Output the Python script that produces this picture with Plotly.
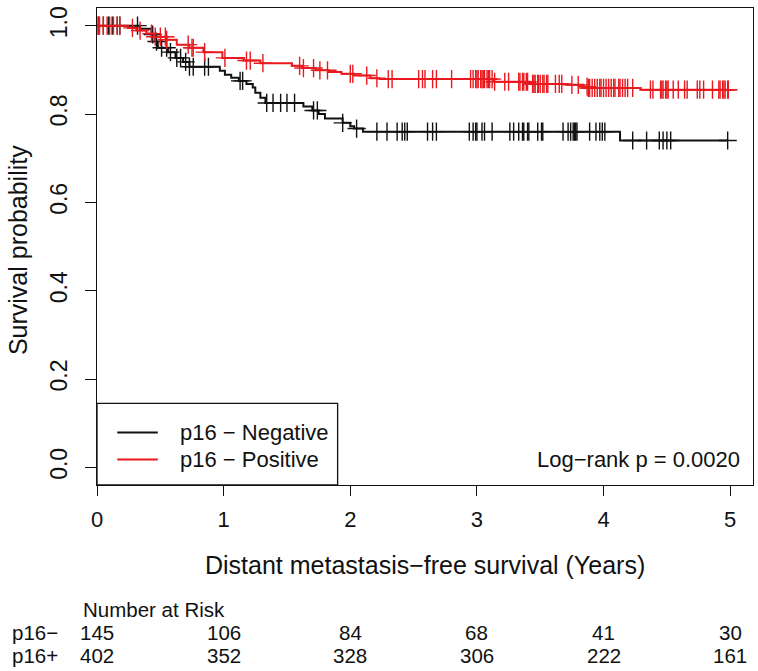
import numpy as np
import plotly.graph_objects as go

# ---------------- data ----------------
years = [0, 1, 2, 3, 4, 5]
year_labels = ["0", "1", "2", "3", "4", "5"]
y_ticks = [0.0, 0.2, 0.4, 0.6, 0.8, 1.0]
y_tick_labels = ["0.0", "0.2", "0.4", "0.6", "0.8", "1.0"]

neg_event_times = [0.34, 0.43, 0.46, 0.48, 0.56, 0.62, 0.68, 0.73, 0.97, 1.01, 1.06, 1.12,
                   1.18, 1.23, 1.25, 1.29, 1.33, 1.63, 1.70, 1.75, 1.80, 1.94, 2.00, 2.03,
                   2.10, 4.13]
neg_event_surv = [0.993, 0.980, 0.964, 0.950, 0.940, 0.927, 0.918, 0.907, 0.898, 0.889, 0.882,
                  0.875, 0.868, 0.860, 0.848, 0.837, 0.825, 0.817, 0.808, 0.800, 0.790, 0.780,
                  0.772, 0.767, 0.760, 0.740]
neg_censor_times = [0.01, 0.05, 0.09, 0.12, 0.16, 0.18, 0.32, 0.44, 0.47, 0.51, 0.55, 0.58,
                    0.63, 0.66, 0.70, 0.73, 0.76, 0.85, 0.88, 1.13, 1.15, 1.34, 1.39, 1.45,
                    1.50, 1.56, 1.71, 1.74, 1.94, 2.05, 2.21, 2.29, 2.37, 2.41, 2.43, 2.45,
                    2.61, 2.65, 2.68, 2.94, 2.97, 2.99, 3.00, 3.04, 3.06, 3.12, 3.26, 3.29,
                    3.33, 3.36, 3.37, 3.40, 3.41, 3.48, 3.51, 3.52, 3.68, 3.72, 3.74, 3.76,
                    3.77, 3.78, 3.79, 3.89, 3.94, 3.97, 3.99, 4.01, 4.23, 4.34, 4.44, 4.47,
                    4.50, 4.53, 4.98]

pos_event_times = [0.245, 0.31, 0.39, 0.45, 0.55, 0.63, 0.73, 0.84, 0.99, 1.16, 1.29, 1.54,
                   1.62, 1.73, 1.83, 1.93, 2.03, 2.16, 2.23, 3.13, 3.42, 3.71, 3.84, 3.88,
                   4.29]
pos_event_surv = [0.995, 0.989, 0.982, 0.975, 0.968, 0.957, 0.950, 0.940, 0.927, 0.921, 0.915,
                  0.909, 0.904, 0.899, 0.895, 0.891, 0.887, 0.881, 0.879, 0.873, 0.868, 0.866,
                  0.862, 0.859, 0.855]
pos_censor_times = [0.01, 0.02, 0.05, 0.08, 0.10, 0.13, 0.16, 0.18, 0.28, 0.34, 0.43, 0.46,
                    0.50, 0.54, 0.55, 0.72, 0.75, 0.76, 0.85, 1.01, 1.18, 1.21, 1.31, 1.60,
                    1.63, 1.71, 1.76, 1.82, 2.00, 2.02, 2.13, 2.21, 2.30, 2.33, 2.54, 2.57,
                    2.59, 2.65, 2.68, 2.80, 2.95, 2.97, 2.99, 3.00, 3.01, 3.03, 3.04, 3.05,
                    3.06, 3.08, 3.09, 3.10, 3.12, 3.14, 3.22, 3.25, 3.33, 3.34, 3.36, 3.37,
                    3.39, 3.40, 3.44, 3.45, 3.46, 3.48, 3.485, 3.50, 3.52, 3.53, 3.55, 3.56,
                    3.62, 3.65, 3.67, 3.75, 3.80, 3.87, 3.88, 3.89, 3.91, 3.93, 3.95, 3.97,
                    3.98, 4.00, 4.02, 4.04, 4.06, 4.08, 4.09, 4.12, 4.13, 4.15, 4.17, 4.19,
                    4.23, 4.37, 4.39, 4.45, 4.46, 4.47, 4.49, 4.50, 4.51, 4.55, 4.59, 4.64,
                    4.66, 4.74, 4.76, 4.79, 4.86, 4.91, 4.92, 4.94, 4.95, 4.96, 4.98, 4.985]

neg_at_risk = [145, 106, 84, 68, 41, 30]
pos_at_risk = [402, 352, 328, 306, 222, 161]

group_names = ["p16 \u2212 Negative", "p16 \u2212 Positive"]
risk_row_labels = ["p16\u2212", "p16+"]
pvalue_text = "Log\u2212rank p = 0.0020"

# ---------------- styling ----------------
FONT = "Liberation Sans, Arial, Helvetica, sans-serif"
BLACK = "#111111"
RED = "#e8191f"


def step_curve(ev_t, ev_s, cens_t):
    end = max(max(cens_t), max(ev_t))
    xs = [0.0] + list(ev_t) + [end]
    ys = [1.0] + list(ev_s) + [ev_s[-1]]
    return xs, ys


def surv_at(ev_t, ev_s, t):
    idx = np.searchsorted(np.asarray(ev_t), np.asarray(t), side="right")
    vals = np.concatenate([[1.0], ev_s])
    return vals[idx]


fig = go.Figure()
for ev_t, ev_s, cens_t, col, name in [
    (neg_event_times, neg_event_surv, neg_censor_times, BLACK, group_names[0]),
    (pos_event_times, pos_event_surv, pos_censor_times, RED, group_names[1]),
]:
    xs, ys = step_curve(ev_t, ev_s, cens_t)
    fig.add_trace(go.Scatter(x=xs, y=ys, mode="lines", line=dict(color=col, width=2, shape="hv"),
                             name=name, showlegend=False, hoverinfo="skip"))
    fig.add_trace(go.Scatter(x=cens_t, y=surv_at(ev_t, ev_s, cens_t), mode="markers",
                             marker=dict(symbol="cross-thin-open", size=13,
                                         line=dict(color=col, width=1.4), color=col),
                             showlegend=False, hoverinfo="skip"))

# legend box (drawn manually, R-style)
shapes = [
    dict(type="rect", xref="x", yref="y", x0=0, x1=1.90, y0=-0.04, y1=0.145,
         line=dict(color=BLACK, width=1.3), fillcolor="rgba(0,0,0,0)"),
    dict(type="line", xref="x", yref="y", x0=0.16, x1=0.48, y0=0.079, y1=0.079,
         line=dict(color=BLACK, width=2)),
    dict(type="line", xref="x", yref="y", x0=0.16, x1=0.48, y0=0.018, y1=0.018,
         line=dict(color=RED, width=2)),
]

annotations = [
    dict(x=0.64, y=0.079, xref="x", yref="y", text=group_names[0], showarrow=False,
         xanchor="left", yanchor="middle", font=dict(size=22, family=FONT, color=BLACK)),
    dict(x=0.64, y=0.018, xref="x", yref="y", text=group_names[1], showarrow=False,
         xanchor="left", yanchor="middle", font=dict(size=22, family=FONT, color=BLACK)),
    dict(x=5.095, y=0.018, xref="x", yref="y", text=pvalue_text, showarrow=False,
         xanchor="right", yanchor="middle", font=dict(size=22, family=FONT, color=BLACK)),
    # axis titles
    dict(x=0.5, y=-0.168, xref="paper", yref="paper", text="Distant metastasis\u2212free survival (Years)",
         showarrow=False, xanchor="center", yanchor="middle", font=dict(size=25, family=FONT, color=BLACK)),
    dict(x=-0.120, y=0.493, xref="paper", yref="paper", text="Survival probability", textangle=-90,
         showarrow=False, xanchor="center", yanchor="middle", font=dict(size=25, family=FONT, color=BLACK)),
    # number at risk table
    dict(x=-0.024, y=-0.262, xref="paper", yref="paper", text="Number at Risk", showarrow=False,
         xanchor="left", yanchor="middle", font=dict(size=20.5, family=FONT, color=BLACK)),
    dict(x=-0.1326, y=-0.310, xref="paper", yref="paper", text=risk_row_labels[0], showarrow=False,
         xanchor="left", yanchor="middle", font=dict(size=20.5, family=FONT, color=BLACK)),
    dict(x=-0.1326, y=-0.358, xref="paper", yref="paper", text=risk_row_labels[1], showarrow=False,
         xanchor="left", yanchor="middle", font=dict(size=20.5, family=FONT, color=BLACK)),
]
for yr, n1, n2 in zip(years, neg_at_risk, pos_at_risk):
    annotations.append(dict(x=yr, y=-0.310, xref="x", yref="paper", text=str(n1), showarrow=False,
                            xanchor="center", yanchor="middle",
                            font=dict(size=20.5, family=FONT, color=BLACK)))
    annotations.append(dict(x=yr, y=-0.358, xref="x", yref="paper", text=str(n2), showarrow=False,
                            xanchor="center", yanchor="middle",
                            font=dict(size=20.5, family=FONT, color=BLACK)))

fig.update_layout(
    width=758, height=671,
    margin=dict(l=97, r=5, t=8, b=186),
    paper_bgcolor="white", plot_bgcolor="white",
    font=dict(family=FONT, size=22, color=BLACK),
    shapes=shapes, annotations=annotations, showlegend=False,
)
fig.update_xaxes(range=[0, 5.18], tickvals=years, ticktext=year_labels, ticks="outside",
                 ticklen=10, tickwidth=1.3, tickcolor=BLACK, showline=True, linecolor=BLACK,
                 linewidth=1.3, mirror=True, showgrid=False, zeroline=False,
                 ticklabelstandoff=4,
                 tickfont=dict(size=22, family=FONT, color=BLACK))
fig.update_yaxes(range=[-0.04, 1.04], tickvals=y_ticks, ticktext=y_tick_labels, ticks="outside",
                 ticklen=11, tickwidth=1.3, tickcolor=BLACK, showline=True, linecolor=BLACK,
                 linewidth=1.3, mirror=True, showgrid=False, zeroline=False, tickangle=-90,
                 ticklabelstandoff=9,
                 tickfont=dict(size=23, family=FONT, color=BLACK))

fig.write_html("out.html", config={"displayModeBar": False},
               post_script="document.body.style.margin='0';document.body.style.overflow='hidden';")
